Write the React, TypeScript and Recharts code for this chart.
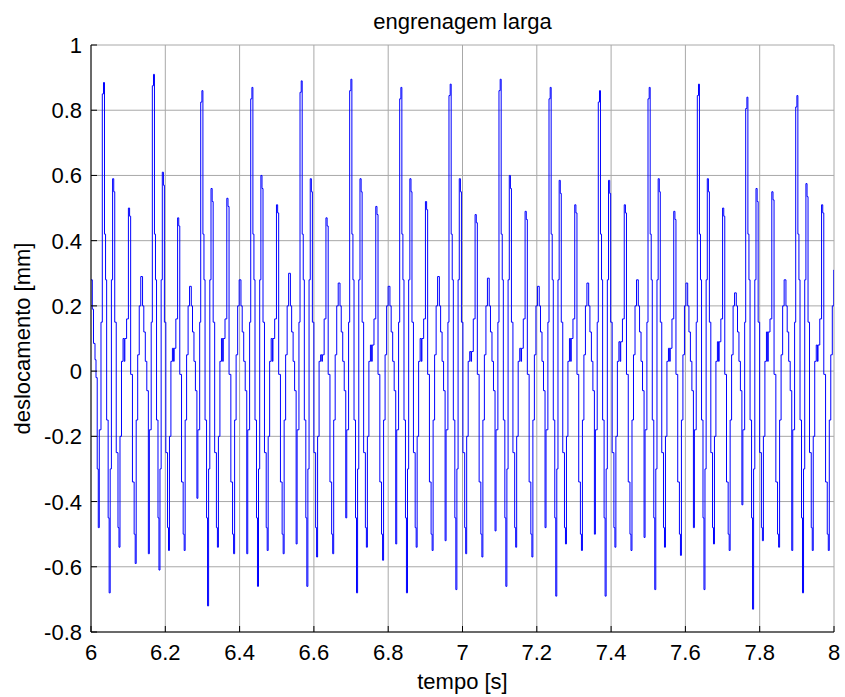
import React from 'react';
import { LineChart, Line, XAxis, YAxis, CartesianGrid } from 'recharts';

// times (s) of the tall peak of each repeating group
const peakTimes = [6.0331, 6.1677, 6.298, 6.4326, 6.5653, 6.699, 6.8336, 6.9663, 7.1009, 7.2355, 7.3682, 7.502, 7.6347, 7.765, 7.8996];
const bigPeak = [0.885, 0.91, 0.86, 0.87, 0.89, 0.895, 0.87, 0.88, 0.895, 0.87, 0.86, 0.87, 0.88, 0.84, 0.845];
const trough1 = [-0.68, -0.61, -0.72, -0.66, -0.66, -0.68, -0.68, -0.67, -0.66, -0.69, -0.69, -0.67, -0.67, -0.73, -0.68];
const peak2 = [0.59, 0.61, 0.56, 0.6, 0.59, 0.59, 0.59, 0.59, 0.6, 0.585, 0.585, 0.59, 0.59, 0.56, 0.575];
const trough2 = [-0.54, -0.55, -0.54, -0.55, -0.57, -0.54, -0.54, -0.56, -0.54, -0.53, -0.54, -0.54, -0.53, -0.52, -0.55];
const wiggle = [0.1, 0.07, 0.1, 0.1, 0.05, 0.08, 0.1, 0.06, 0.07, 0.1, 0.09, 0.07, 0.09, 0.12, 0.08];
const peak3 = [0.5, 0.47, 0.53, 0.51, 0.47, 0.505, 0.52, 0.48, 0.49, 0.51, 0.51, 0.49, 0.5, 0.55, 0.51];
const trough3 = [-0.59, -0.55, -0.56, -0.56, -0.56, -0.58, -0.55, -0.57, -0.57, -0.55, -0.55, -0.565, -0.55, -0.54, -0.55];
const peak4 = [0.29, 0.26, 0.28, 0.3, 0.27, 0.26, 0.29, 0.285, 0.26, 0.27, 0.28, 0.27, 0.24, 0.28, 0.31];
const trough4 = [-0.56, -0.39, -0.56, -0.53, -0.45, -0.53, -0.52, -0.49, -0.48, -0.5, -0.51, -0.48, -0.41, -0.55, -0.5];

// opening stretch before the first group
const startTimes = [6.0, 6.0035, 6.0067, 6.0108, 6.0135, 6.0167, 6.0196, 6.0223, 6.0269];
const startValues = [0.28, 0.19, 0.085, 0.035, -0.02, -0.3, -0.48, -0.18, 0.15];

// stair-step plateaus within one group: offset (fraction of group length) and level
const stepPhase = [-0.02, 0.004, 0.024, 0.045, 0.067, 0.097, 0.117, 0.138, 0.162, 0.186, 0.209, 0.229, 0.259, 0.294, 0.314, 0.334, 0.364, 0.395, 0.419, 0.431, 0.466, 0.502, 0.526, 0.547, 0.583, 0.617, 0.638, 0.658, 0.688, 0.719, 0.749, 0.785, 0.81, 0.84, 0.87, 0.901, 0.921, 0.958];
const stepLevel: (number | string)[] = ['Plo', 'P', 0.42, 0.28, -0.15, -0.45, 'T1', -0.3, 0.28, 'P2', 'P2lo', 0.15, -0.25, -0.48, 'T2', -0.2, 0.03, 'W', 0.03, 'W', 0.16, 'P3', 'P3lo', -0.01, -0.34, -0.5, 'T3', -0.15, 0.05, 0.2, 'P4', 0.2, 0.12, 0.03, -0.06, 'T4', -0.18, 0.15];

const xTicks = [6, 6.2, 6.4, 6.6, 6.8, 7, 7.2, 7.4, 7.6, 7.8, 8];
const yTicks = [-0.8, -0.6, -0.4, -0.2, 0, 0.2, 0.4, 0.6, 0.8, 1];

function level(key: number | string, i: number): number {
  if (typeof key === 'number') return key;
  switch (key) {
    case 'P': return bigPeak[i];
    case 'Plo': return bigPeak[i] - 0.035;
    case 'T1': return trough1[i];
    case 'P2': return peak2[i];
    case 'P2lo': return peak2[i] - 0.04;
    case 'T2': return trough2[i];
    case 'W': return wiggle[i];
    case 'P3': return peak3[i];
    case 'P3lo': return peak3[i] - 0.025;
    case 'T3': return trough3[i];
    case 'P4': return peak4[i];
    default: return trough4[i];
  }
}

function buildData() {
  const rows: { t: number; v: number }[] = [];
  startTimes.forEach((t, k) => rows.push({ t, v: startValues[k] }));
  for (let i = 0; i < peakTimes.length; i++) {
    const gap = i < peakTimes.length - 1 ? peakTimes[i + 1] - peakTimes[i] : 0.1333;
    for (let k = 0; k < stepPhase.length; k++) {
      const t = peakTimes[i] + stepPhase[k] * gap;
      if (t > 8) break;
      rows.push({ t, v: level(stepLevel[k], i) });
    }
  }
  rows.push({ t: 8, v: rows[rows.length - 1].v });
  return rows;
}

const data = buildData();
const FONT = '"Liberation Sans", Arial, Helvetica, sans-serif';
const FS = 22;
const fmt = (v: number) => String(Number(v.toFixed(1)));

const BottomTick = (p: any) => (
  <g>
    <line x1={p.x} y1={p.y} x2={p.x} y2={p.y - 6} stroke="#000" />
    <text x={p.x} y={p.y + 28} textAnchor="middle" fontSize={FS} fontFamily={FONT} fill="#000">{fmt(p.payload.value)}</text>
  </g>
);
const TopTick = (p: any) => (
  <line x1={p.x} y1={p.y} x2={p.x} y2={p.y + 6} stroke="#000" />
);
const LeftTick = (p: any) => (
  <g>
    <line x1={p.x} y1={p.y} x2={p.x + 6} y2={p.y} stroke="#000" />
    <text x={p.x - 9} y={p.y + 8} textAnchor="end" fontSize={FS} fontFamily={FONT} fill="#000">{fmt(p.payload.value)}</text>
  </g>
);
const RightTick = (p: any) => (
  <line x1={p.x - 6} y1={p.y} x2={p.x} y2={p.y} stroke="#000" />
);

export default function App() {
  return (
    <div style={{ position: 'absolute', left: 0, top: 0, width: 845, height: 697, background: '#fff' }}>
      <LineChart width={845} height={697} data={data} margin={{ top: 45, right: 11, bottom: 0, left: 0 }}>
        <CartesianGrid stroke="#a8a8a8" strokeWidth={1} verticalValues={xTicks} horizontalValues={yTicks} />
        <XAxis dataKey="t" type="number" domain={[6, 8]} ticks={xTicks} interval={0} allowDataOverflow height={65}
          tickSize={0} tickMargin={0} tickLine={false} axisLine={{ stroke: '#000' }} tick={<BottomTick />} />
        <XAxis xAxisId="top" orientation="top" dataKey="t" type="number" domain={[6, 8]} ticks={xTicks} interval={0} allowDataOverflow height={0}
          tickSize={0} tickMargin={0} tickLine={false} axisLine={{ stroke: '#000' }} tick={<TopTick />} />
        <YAxis type="number" domain={[-0.8, 1]} ticks={yTicks} interval={0} allowDataOverflow width={91}
          tickSize={0} tickMargin={0} tickLine={false} axisLine={{ stroke: '#000' }} tick={<LeftTick />} />
        <YAxis yAxisId="right" orientation="right" type="number" domain={[-0.8, 1]} ticks={yTicks} interval={0} allowDataOverflow width={0}
          tickSize={0} tickMargin={0} tickLine={false} axisLine={{ stroke: '#000' }} tick={<RightTick />} />
        <Line dataKey="v" type="stepAfter" stroke="#0000ff" strokeWidth={1} dot={false} isAnimationActive={false} />
      </LineChart>
      <svg width={845} height={697} style={{ position: 'absolute', left: 0, top: 0, pointerEvents: 'none' }}>
        <text x={462.5} y={29} textAnchor="middle" fontSize={FS} fontFamily={FONT} fill="#000">engrenagem larga</text>
        <text x={462.5} y={689} textAnchor="middle" fontSize={FS} fontFamily={FONT} fill="#000">tempo [s]</text>
        <text x={30} y={338.5} textAnchor="middle" fontSize={FS} fontFamily={FONT} fill="#000" transform="rotate(-90 30 338.5)">deslocamento [mm]</text>
      </svg>
    </div>
  );
}
